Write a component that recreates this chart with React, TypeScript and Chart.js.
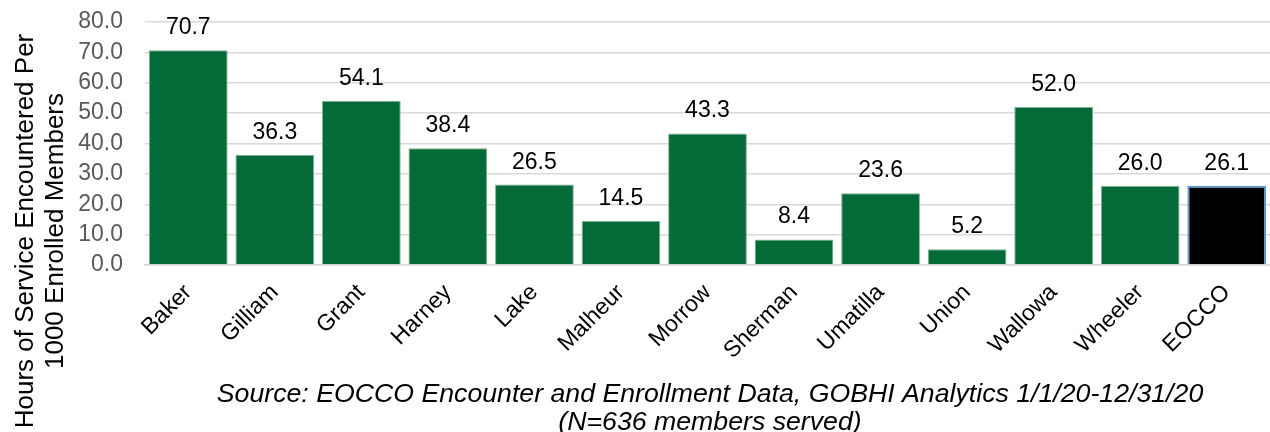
import { useEffect, useRef } from "react";
import { Chart, registerables } from "chart.js";

Chart.register(...registerables);

// Counties served and hours of service per 1000 enrolled members (2020)
const counties = [
  "Baker",
  "Gilliam",
  "Grant",
  "Harney",
  "Lake",
  "Malheur",
  "Morrow",
  "Sherman",
  "Umatilla",
  "Union",
  "Wallowa",
  "Wheeler",
  "EOCCO",
];
const hoursPer1000 = [70.7, 36.3, 54.1, 38.4, 26.5, 14.5, 43.3, 8.4, 23.6, 5.2, 52.0, 26.0, 26.1];

const yTitleLines = ["Hours of Service Encountered Per", "1000 Enrolled Members"];
const sourceLines = [
  "Source: EOCCO Encounter and Enrollment Data, GOBHI Analytics 1/1/20-12/31/20",
  "(N=636 members served)",
];

const GREEN = "#046A38";
const FONT = '"Liberation Sans", Arial, sans-serif';

const fills = counties.map((c) => (c === "EOCCO" ? "#000000" : GREEN));
const borders = counties.map((c) => (c === "EOCCO" ? "#5B9BD5" : "#7fb294"));
const borderWidths = counties.map((c) => (c === "EOCCO" ? 2 : 1));

const annotations = {
  id: "annotations",
  afterDatasetsDraw(chart: any) {
    const ctx = chart.ctx;
    const meta = chart.getDatasetMeta(0);
    ctx.save();
    ctx.font = `23px ${FONT}`;
    ctx.fillStyle = "#000000";
    ctx.textAlign = "center";
    ctx.textBaseline = "alphabetic";
    meta.data.forEach((bar: any, i: number) => {
      ctx.fillText(hoursPer1000[i].toFixed(1), bar.x, bar.y - 16);
    });
    ctx.restore();
  },
  afterDraw(chart: any) {
    const ctx = chart.ctx;
    ctx.save();
    // vertical axis title, two lines
    ctx.font = `26px ${FONT}`;
    ctx.fillStyle = "#000000";
    ctx.textAlign = "center";
    ctx.textBaseline = "alphabetic";
    const baselines = [33, 63];
    yTitleLines.forEach((line, i) => {
      ctx.save();
      ctx.translate(baselines[i], 231);
      ctx.rotate(-Math.PI / 2);
      ctx.fillText(line, 0, 0);
      ctx.restore();
    });
    // source note under the categories
    ctx.font = `italic 26.7px ${FONT}`;
    sourceLines.forEach((line, i) => {
      ctx.fillText(line, 710, 402 + i * 28);
    });
    ctx.restore();
  },
};

export default function App() {
  const canvasRef = useRef<HTMLCanvasElement | null>(null);

  useEffect(() => {
    if (!canvasRef.current) return;
    const chart = new Chart(canvasRef.current, {
      type: "bar",
      data: {
        labels: counties,
        datasets: [
          {
            data: hoursPer1000,
            backgroundColor: fills,
            borderColor: borders,
            borderWidth: borderWidths,
            barPercentage: 0.91,
            categoryPercentage: 1,
          },
        ],
      },
      options: {
        responsive: false,
        animation: false,
        devicePixelRatio: 1,
        layout: { padding: { top: 22, left: 0, right: 0, bottom: 0 } },
        plugins: {
          legend: { display: false },
          tooltip: { enabled: false },
          title: { display: false },
        },
        scales: {
          x: {
            grid: { display: false, drawTicks: false },
            border: { display: true, color: "#d9d9d9", width: 1.5 },
            ticks: {
              color: "#000000",
              font: { family: FONT, size: 23 },
              minRotation: 45,
              maxRotation: 45,
              padding: 14,
              autoSkip: false,
            },
            afterFit(scale: any) {
              scale.height = 167;
            },
          },
          y: {
            min: 0,
            max: 80,
            grid: { color: "#d9d9d9", lineWidth: 1.5, drawTicks: false },
            border: { display: false },
            ticks: {
              stepSize: 10,
              autoSkip: false,
              color: "#595959",
              font: { family: FONT, size: 23 },
              padding: 22,
              callback: (v: any) => Number(v).toFixed(1),
            },
            afterFit(scale: any) {
              scale.width = 145;
              scale.paddingTop = 0;
              scale.paddingBottom = 0;
            },
          },
        },
      },
      plugins: [annotations],
    });
    return () => chart.destroy();
  }, []);

  return (
    <div style={{ position: "fixed", left: 0, top: 0, width: 1270, height: 432, background: "#ffffff" }}>
      <canvas ref={canvasRef} width={1270} height={432} style={{ display: "block" }} />
    </div>
  );
}
